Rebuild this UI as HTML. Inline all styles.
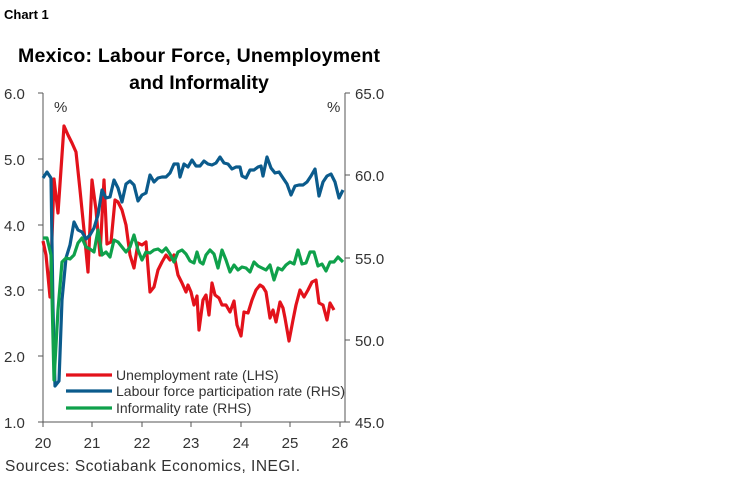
<!DOCTYPE html>
<html><head><style>
body{margin:0;background:#fff;}
svg text{font-family:"Liberation Sans",sans-serif;}
</style></head><body>
<svg width="748" height="483" viewBox="0 0 748 483" xmlns="http://www.w3.org/2000/svg">
<text x="4" y="19" font-size="13" font-weight="bold" fill="#000">Chart 1</text>
<text x="199" y="62" font-size="19.5" font-weight="bold" text-anchor="middle" fill="#000" textLength="362">Mexico: Labour Force, Unemployment</text>
<text x="199" y="89" font-size="19.5" font-weight="bold" text-anchor="middle" fill="#000">and Informality</text>
<g stroke="#555" stroke-width="1" fill="none">
<path d="M43,93V422H345V93"/>
<path d="M38,93H43M38,159H43M38,225H43M38,290H43M38,356H43M38,422H43"/>
<path d="M345,93H350M345,175H350M345,258H350M345,340H350M345,422H350"/>
<path d="M43,422v5M92,422v5M142,422v5M191,422v5M241,422v5M290,422v5M340,422v5"/>
</g>
<g font-size="15" fill="#333">
<text x="4" y="99">6.0</text><text x="4" y="165">5.0</text><text x="4" y="231">4.0</text><text x="4" y="296">3.0</text><text x="4" y="362">2.0</text><text x="4" y="428">1.0</text>
<text x="355" y="99">65.0</text><text x="355" y="181">60.0</text><text x="355" y="264">55.0</text><text x="355" y="346">50.0</text><text x="355" y="428">45.0</text>
<g text-anchor="middle"><text x="43" y="448">20</text><text x="92" y="448">21</text><text x="142" y="448">22</text><text x="191" y="448">23</text><text x="241" y="448">24</text><text x="290" y="448">25</text><text x="340" y="448">26</text></g>
<text x="54" y="112">%</text><text x="327" y="112">%</text>
</g>
<g fill="none" stroke-width="3.2" stroke-linejoin="round">
<polyline stroke="#e3121b" points="43,241 46,255 50,297 54,179 58,213 64,126 68,135 72,143 76,152 80,190 84,230 88,272 92,180 96,210 100,255 104,180 107,244 111,242 115,200 118,202 122,210 126,225 130,255 134,268 138,243 142,245 146,242 150,292 154,287 158,270 162,262 166,255 170,260 174,255 178,275 182,283 186,292 188,285 191,292 194,305 197,296 199,330 203,300 206,295 209,315 212,283 215,295 219,298 222,305 226,305 230,312 234,301 237,325 241,336 244,312 248,313 252,300 256,290 260,285 263,287 266,292 270,318 273,310 276,322 280,302 283,308 285,318 289,341 293,320 296,305 300,290 304,297 308,290 312,282 316,280 319,303 323,305 327,320 330,303 334,310"/>
<polyline stroke="#0b5b8c" points="43,178 47,172 51,178 53,308 55,386 59,381 62,300 66,258 70,245 74,222 78,230 82,232 86,239 90,235 94,228 98,215 102,190 106,198 110,197 114,180 118,188 122,202 126,184 130,181 134,185 138,201 142,195 146,193 150,175 154,182 158,178 162,177 166,177 170,173 174,164 178,164 180,177 184,164 188,167 192,160 196,166 200,166 204,161 208,164 212,165 216,163 220,157 224,163 228,164 232,169 236,167 240,167 242,176 246,178 250,170 254,170 258,167 261,166 263,176 267,157 271,168 275,173 279,172 283,178 287,184 291,195 295,186 299,185 303,185 307,182 311,176 315,169 319,196 323,182 327,176 331,174 335,182 339,198 343,190"/>
<polyline stroke="#0fa14b" points="43,238 47,238 51,255 54,380 58,310 62,262 66,258 70,259 74,255 78,243 82,238 86,247 90,249 94,252 98,230 102,255 106,252 110,257 114,240 118,242 122,247 126,252 130,247 134,235 138,250 142,260 146,252 150,253 154,250 158,249 162,252 166,248 170,254 174,262 178,252 182,250 186,254 190,261 194,263 197,252 200,262 203,264 206,255 210,250 214,254 218,268 222,250 226,260 230,272 234,265 238,270 242,267 246,268 250,272 254,262 258,266 262,268 266,270 270,265 274,280 278,268 282,270 286,265 290,262 294,264 298,250 302,264 306,263 310,252 314,252 318,266 322,264 326,271 330,262 334,262 338,257 343,262"/>
<line x1="66" y1="375" x2="112" y2="375" stroke="#e3121b"/>
<line x1="66" y1="391" x2="112" y2="391" stroke="#0b5b8c"/>
<line x1="66" y1="408" x2="112" y2="408" stroke="#0fa14b"/>
</g>
<g font-size="14" fill="#333">
<text x="116" y="380">Unemployment rate (LHS)</text>
<text x="116" y="396" textLength="229">Labour force participation rate (RHS)</text>
<text x="116" y="413">Informality rate (RHS)</text>
</g>
<text x="5" y="471" font-size="15.5" fill="#333" textLength="295">Sources: Scotiabank Economics, INEGI.</text>
</svg>
</body></html>
